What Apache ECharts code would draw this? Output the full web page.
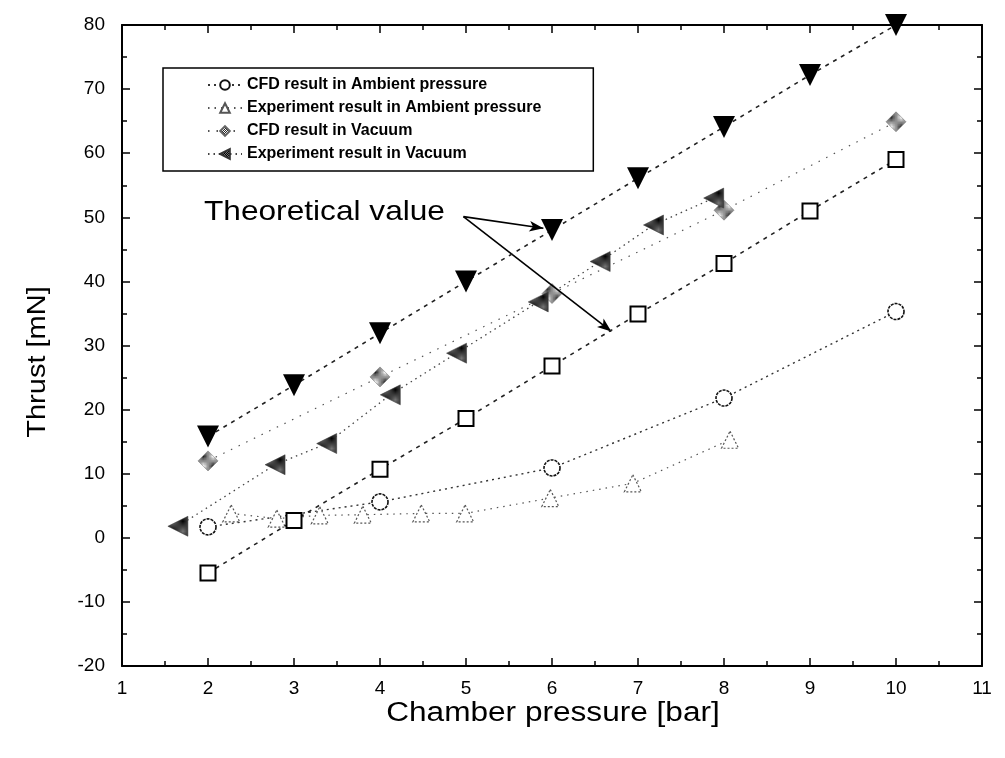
<!DOCTYPE html>
<html>
<head>
<meta charset="utf-8">
<script src="https://cdn.jsdelivr.net/npm/echarts@6/dist/echarts.min.js"></script>
<style>
  html, body { margin: 0; padding: 0; background: #fff; }
  #chart { width: 1005px; height: 758px; }
</style>
</head>
<body>
<div id="chart"></div>
<script>
// values: [pressure bar, thrust mN]
const theoryVacuum = [[2, 15.8], [3, 23.8], [4, 31.9], [5, 40.0], [6, 48.0], [7, 56.1], [8, 64.1], [9, 72.2], [10, 80]];
const theoryAmbient = [[2, -5.5], [3, 2.7], [4, 10.7], [5, 18.6], [6, 26.8], [7, 34.9], [8, 42.8], [9, 51.0], [10, 59.0]];
const cfdAmbient = [[2, 1.7], [4, 5.6], [6, 10.9], [8, 21.8], [10, 35.3]];
const expAmbient = [[2.27, 3.8], [2.8, 3.0], [3.3, 3.5], [3.8, 3.6], [4.48, 3.8], [4.99, 3.8], [5.98, 6.2], [6.94, 8.5], [8.07, 15.3]];
const cfdVacuum = [[2, 12.0], [4, 25.1], [6, 38.1], [8, 51.1], [10, 64.9]];
const expVacuum = [[1.65, 1.8], [2.78, 11.4], [3.38, 14.7], [4.12, 22.3], [4.89, 28.8], [5.84, 36.8], [6.56, 43.1], [7.18, 48.8], [7.88, 53.0]];

const legendNames = [
  "CFD result in Ambient pressure",
  "Experiment result in Ambient pressure",
  "CFD result in Vacuum",
  "Experiment result in Vacuum"
];

const FONT = "'Liberation Sans', Arial, sans-serif";

// little checker patterns for the hatched markers
function checker(dark, light) {
  const c = document.createElement("canvas");
  c.width = c.height = 2;
  const g = c.getContext("2d");
  g.fillStyle = light;
  g.fillRect(0, 0, 2, 2);
  g.fillStyle = dark;
  g.fillRect(0, 0, 1, 1);
  g.fillRect(1, 1, 1, 1);
  return { image: c, repeat: "repeat" };
}

const tickStyle = { color: "#000", width: 1.5 };

const xAxisBase = {
  type: "value",
  min: 1,
  max: 11,
  interval: 1,
  axisLine: { onZero: false, lineStyle: { color: "#000", width: 2 } },
  axisTick: { inside: true, length: 8, lineStyle: tickStyle },
  minorTick: { show: true, splitNumber: 2, length: 5, lineStyle: tickStyle },
  splitLine: { show: false }
};
const yAxisBase = {
  type: "value",
  min: -20,
  max: 80,
  interval: 10,
  axisLine: { onZero: false, lineStyle: { color: "#000", width: 2 } },
  axisTick: { inside: true, length: 8, lineStyle: tickStyle },
  minorTick: { show: true, splitNumber: 2, length: 5, lineStyle: tickStyle },
  splitLine: { show: false }
};

const option = {
  backgroundColor: "#fff",
  animation: false,
  grid: { left: 122, right: 23, top: 25, bottom: 92 },
  legend: {
    orient: "vertical",
    left: 163,
    top: 68,
    data: legendNames,
    padding: [9, 52, 9, 44],
    itemGap: 7,
    itemWidth: 34,
    itemHeight: 12,
    borderColor: "#000",
    borderWidth: 1.5,
    borderRadius: 0,
    textStyle: { fontFamily: FONT, fontSize: 16, fontWeight: "bold", color: "#000" }
  },
  xAxis: [
    Object.assign({}, xAxisBase, {
      position: "bottom",
      axisLabel: { margin: 13, fontFamily: FONT, fontSize: 19, color: "#000" }
    }),
    Object.assign({}, xAxisBase, { position: "top", axisLabel: { show: false } })
  ],
  yAxis: [
    Object.assign({}, yAxisBase, {
      position: "left",
      axisLabel: { margin: 17, fontFamily: FONT, fontSize: 19, color: "#000" }
    }),
    Object.assign({}, yAxisBase, { position: "right", axisLabel: { show: false } })
  ],
  graphic: [
    {
      type: "text",
      x: 204,
      y: 198,
      scaleX: 1.13,
      style: { text: "Theoretical value", fontFamily: FONT, fontSize: 28, fill: "#000" }
    },
    {
      type: "text",
      x: 553,
      y: 714,
      scaleX: 1.17,
      style: {
        text: "Chamber pressure [bar]", fontFamily: FONT, fontSize: 27, fill: "#000",
        align: "center", verticalAlign: "middle"
      }
    },
    {
      type: "text",
      x: 38,
      y: 362,
      rotation: Math.PI / 2,
      scaleX: 1.16,
      style: {
        text: "Thrust [mN]", fontFamily: FONT, fontSize: 25, fill: "#000",
        align: "center", verticalAlign: "middle"
      }
    }
  ],
  series: [
    {
      name: "Theoretical value (vacuum)",
      type: "line",
      data: theoryVacuum,
      symbol: "triangle",
      symbolRotate: 180,
      symbolSize: 22,
      itemStyle: { color: "#000" },
      lineStyle: { color: "#222", width: 1.6, type: [4, 5] },
      z: 5,
      markLine: {
        silent: true,
        symbol: ["none", "arrow"],
        symbolSize: [8, 14],
        label: { show: false },
        lineStyle: { color: "#000", width: 1.6, type: "solid" },
        data: [
          [{ coord: [4.97, 50.1] }, { coord: [5.9, 48.3] }],
          [{ coord: [4.97, 50.1] }, { coord: [6.69, 32.2] }]
        ]
      }
    },
    {
      name: "Theoretical value (ambient)",
      type: "line",
      data: theoryAmbient,
      symbol: "rect",
      symbolSize: 15,
      itemStyle: { color: "#fff", borderColor: "#000", borderWidth: 2 },
      lineStyle: { color: "#222", width: 1.6, type: [4, 5] },
      z: 5
    },
    {
      name: legendNames[0],
      type: "line",
      data: cfdAmbient,
      symbol: "circle",
      symbolSize: 16,
      itemStyle: { color: "#fff", borderColor: "#111", borderWidth: 1.6, borderType: [3, 1] },
      lineStyle: { color: "#333", width: 1.4, type: [2, 4] }
    },
    {
      name: legendNames[1],
      type: "line",
      data: expAmbient,
      symbol: "triangle",
      symbolSize: 17,
      itemStyle: { color: "#fff", borderColor: "#555", borderWidth: 1.2, borderType: [2, 2] },
      lineStyle: { color: "#555", width: 1.2, type: [1.5, 5] }
    },
    {
      name: legendNames[2],
      type: "line",
      data: cfdVacuum,
      symbol: "diamond",
      symbolSize: 20,
      itemStyle: { color: checker("#222", "#fff"), borderColor: "#666", borderWidth: 0.5 },
      lineStyle: { color: "#555", width: 1.2, type: [1.5, 7] }
    },
    {
      name: legendNames[3],
      type: "line",
      data: expVacuum,
      symbol: "triangle",
      symbolRotate: 90,
      symbolSize: 20,
      itemStyle: { color: checker("#000", "#777"), borderColor: "#333", borderWidth: 0.5 },
      lineStyle: { color: "#444", width: 1.3, type: [1.5, 4] }
    }
  ]
};

const chart = echarts.init(document.getElementById("chart"));
chart.setOption(option);
</script>
</body>
</html>
